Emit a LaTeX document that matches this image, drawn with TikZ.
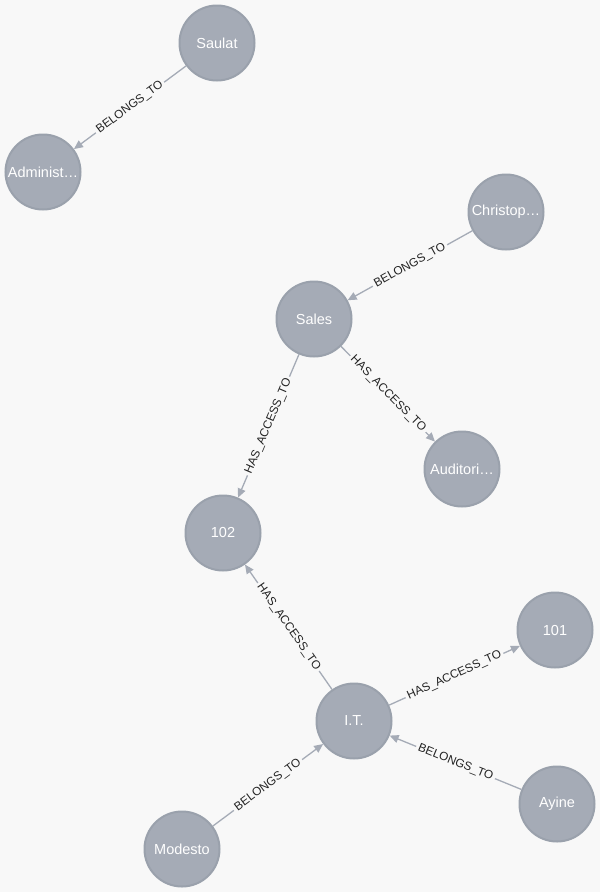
\documentclass[tikz,border=0pt]{standalone}
\usepackage{fontspec}
\setmainfont{Liberation Sans}
\usetikzlibrary{arrows.meta}
\definecolor{bgc}{HTML}{F8F8F8}
\definecolor{nodefill}{HTML}{A5ABB6}
\definecolor{nodeborder}{HTML}{9AA1AC}
\definecolor{edgec}{HTML}{A5ABB6}
\definecolor{labc}{HTML}{222222}
\tikzset{
  gnode/.style={circle, fill=nodefill, draw=nodeborder, line width=2pt,
    minimum size=75pt, inner sep=0pt, text=white,
    font=\fontsize{14.5}{16}\selectfont},
  rel/.style={draw=edgec, line width=1.3pt,
    -{Triangle[length=9pt,width=8pt]}},
  rlab/.style={sloped, midway, fill=bgc, inner sep=2.5pt, text=labc,
    font=\fontsize{11.8}{14}\selectfont}
}
\begin{document}
\begin{tikzpicture}[x=1pt,y=-1pt]
\fill[bgc] (0,0) rectangle (600,892);
\useasboundingbox (0,0) rectangle (600,892);
\node[gnode] (saulat) at (217,43) {Saulat};
\node[gnode] (admin) at (43,172) {Administ…};
\node[gnode] (chris) at (506,212) {Christop…};
\node[gnode] (sales) at (314,319) {Sales};
\node[gnode] (audit) at (462,469) {Auditori…};
\node[gnode] (r102) at (223,533) {102};
\node[gnode] (r101) at (555,630) {101};
\node[gnode] (it) at (354,721) {I.T.};
\node[gnode] (ayine) at (557,804) {Ayine};
\node[gnode] (modesto) at (182,849) {Modesto};
\draw[rel] (saulat) -- node[rlab] {BELONGS\_TO} (admin);
\draw[rel] (chris) -- node[rlab] {BELONGS\_TO} (sales);
\draw[rel] (sales) -- node[rlab] {HAS\_ACCESS\_TO} (r102);
\draw[rel] (sales) -- node[rlab] {HAS\_ACCESS\_TO} (audit);
\draw[rel] (it) -- node[rlab] {HAS\_ACCESS\_TO} (r102);
\draw[rel] (it) -- node[rlab] {HAS\_ACCESS\_TO} (r101);
\draw[rel] (ayine) -- node[rlab] {BELONGS\_TO} (it);
\draw[rel] (modesto) -- node[rlab] {BELONGS\_TO} (it);
\end{tikzpicture}
\end{document}
